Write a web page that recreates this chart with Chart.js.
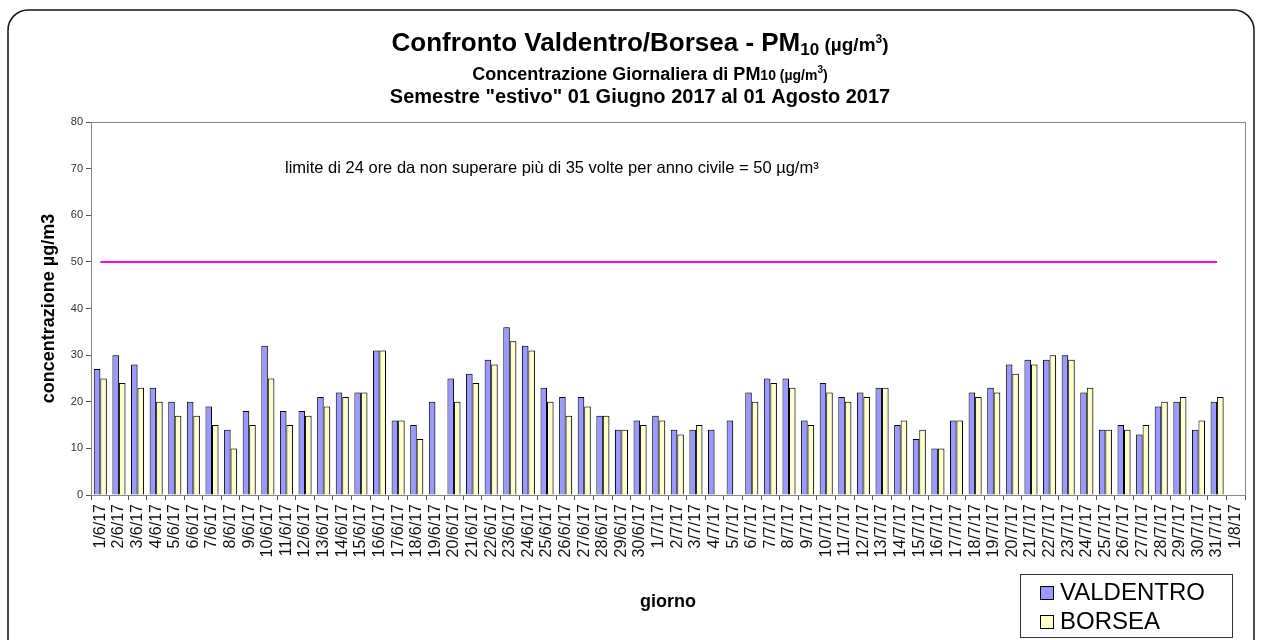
<!DOCTYPE html>
<html><head><meta charset="utf-8">
<script src="https://cdn.jsdelivr.net/npm/chart.js@4.4.0/dist/chart.umd.min.js"></script>
<style>html,body{margin:0;padding:0;background:#fff;}#wrap{width:1262px;height:640px;position:relative;}</style>
</head><body><div id="wrap"><canvas id="c" width="1262" height="640"></canvas></div>
<script>
// ---- DATA ----
const days = ['1/6/17','2/6/17','3/6/17','4/6/17','5/6/17','6/6/17','7/6/17','8/6/17','9/6/17','10/6/17',
'11/6/17','12/6/17','13/6/17','14/6/17','15/6/17','16/6/17','17/6/17','18/6/17','19/6/17','20/6/17',
'21/6/17','22/6/17','23/6/17','24/6/17','25/6/17','26/6/17','27/6/17','28/6/17','29/6/17','30/6/17',
'1/7/17','2/7/17','3/7/17','4/7/17','5/7/17','6/7/17','7/7/17','8/7/17','9/7/17','10/7/17',
'11/7/17','12/7/17','13/7/17','14/7/17','15/7/17','16/7/17','17/7/17','18/7/17','19/7/17','20/7/17',
'21/7/17','22/7/17','23/7/17','24/7/17','25/7/17','26/7/17','27/7/17','28/7/17','29/7/17','30/7/17',
'31/7/17','1/8/17'];
const valdentro = [27,30,28,23,20,20,19,14,18,32,18,18,21,22,22,31,16,15,20,25,26,29,36,32,23,21,21,17,14,16,
17,14,14,14,16,22,25,25,16,24,21,22,23,15,12,10,16,22,23,28,29,29,30,22,14,15,13,19,20,14,20,null];
const borsea = [25,24,23,20,17,17,15,10,15,25,15,17,19,21,22,31,16,12,null,20,24,28,33,31,20,17,19,17,14,15,
16,13,15,null,null,20,24,23,15,22,20,21,23,16,14,10,16,21,22,26,28,30,29,23,14,14,15,20,21,16,21,null];
const limitDays = ['1/6/17','31/7/17'];
const limitValues = [50,50];
const seriesNames = ['VALDENTRO','BORSEA'];
const yMin = 0, yMax = 80, yStep = 10;

const FONT = 'Liberation Sans, Arial, Helvetica, sans-serif';

function richText(ctx, segs, cx, baseline){
  let total = 0;
  segs.forEach(s=>{ctx.font=s.font; s.w=ctx.measureText(s.t).width; total+=s.w;});
  let x = cx - total/2;
  ctx.textAlign='left'; ctx.textBaseline='alphabetic'; ctx.fillStyle='#000';
  segs.forEach(s=>{ctx.font=s.font; ctx.fillText(s.t,x,baseline+(s.dy||0)); x+=s.w;});
}

const decor = {
  id:'decor',
  beforeDraw(chart){
    const ctx=chart.ctx, a=chart.chartArea;
    ctx.save();
    ctx.fillStyle='#fff'; ctx.fillRect(0,0,chart.width,chart.height);
    ctx.strokeStyle='#111'; ctx.lineWidth=1.5;
    ctx.beginPath(); ctx.roundRect(8,10,1246,660,20); ctx.stroke();
    ctx.strokeStyle='#888'; ctx.lineWidth=1;
    ctx.strokeRect(Math.round(a.left)+0.5,Math.round(a.top)+0.5,Math.round(a.right-a.left),Math.round(a.bottom-a.top));
    ctx.restore();
  },
  beforeDatasetDraw(chart,args){
    if(chart.data.datasets[args.index].type==='line') return;
    const ctx=chart.ctx; ctx.save();
    ctx.shadowColor='rgba(0,0,0,0.25)'; ctx.shadowOffsetX=1.5; ctx.shadowOffsetY=0; ctx.shadowBlur=0;
  },
  afterDatasetDraw(chart,args){
    if(chart.data.datasets[args.index].type==='line') return;
    chart.ctx.restore();
  },
  afterDraw(chart){
    const ctx=chart.ctx, a=chart.chartArea;
    const ys=chart.scales.y;
    ctx.save();
    const cx=640;
    richText(ctx,[
      {t:'Confronto Valdentro/Borsea - PM',font:'bold 26px '+FONT},
      {t:'10',font:'bold 17px '+FONT,dy:4},
      {t:' (µg/m',font:'bold 19px '+FONT},
      {t:'3',font:'bold 12px '+FONT,dy:-8},
      {t:')',font:'bold 19px '+FONT}
    ],cx,51);
    richText(ctx,[
      {t:'Concentrazione Giornaliera di PM',font:'bold 18px '+FONT},
      {t:'10 (µg/m',font:'bold 14px '+FONT},
      {t:'3',font:'bold 10px '+FONT,dy:-7},
      {t:')',font:'bold 14px '+FONT}
    ],650,80);
    richText(ctx,[
      {t:'Semestre "estivo" 01 Giugno 2017 al 01 Agosto 2017',font:'bold 20px '+FONT}
    ],cx,103);
    ctx.font='16.5px '+FONT; ctx.fillStyle='#000'; ctx.textAlign='left'; ctx.textBaseline='middle';
    ctx.fillText('limite di 24 ore da non superare più di 35 volte per anno civile = 50 µg/m³', a.left+194, ys.getPixelForValue(70));
    ctx.font='bold 18px '+FONT; ctx.textAlign='center'; ctx.textBaseline='middle';
    ctx.fillText('giorno',(a.left+a.right)/2,602);
    const lx=1020, ly=574, lw=212, lh=63;
    ctx.fillStyle='#fff'; ctx.fillRect(lx,ly,lw,lh);
    ctx.strokeStyle='#333'; ctx.lineWidth=1; ctx.strokeRect(lx+0.5,ly+0.5,lw,lh);
    chart.data.datasets.filter(d=>d.type!=='line').forEach((d,i)=>{
      const yy=ly+18+i*29;
      ctx.fillStyle=d.backgroundColor; ctx.fillRect(lx+20,yy-6,14,14);
      ctx.strokeStyle='#000'; ctx.strokeRect(lx+20.5,yy-5.5,13,13);
      ctx.fillStyle='#000'; ctx.font='24px '+FONT; ctx.textAlign='left'; ctx.textBaseline='middle';
      ctx.fillText(d.label,lx+40,yy+1);
    });
    ctx.restore();
  }
};

new Chart(document.getElementById('c'),{
  data:{
    labels:days,
    datasets:[
      {type:'bar',label:seriesNames[0],data:valdentro,backgroundColor:'#9999FF',borderColor:'#000',borderWidth:1,borderSkipped:'bottom',categoryPercentage:0.7,barPercentage:1.0,order:2},
      {type:'bar',label:seriesNames[1],data:borsea,backgroundColor:'#FFFFCC',borderColor:'#000',borderWidth:1,borderSkipped:'bottom',categoryPercentage:0.7,barPercentage:1.0,order:2},
      {type:'line',label:'limite',data:limitDays.map((d,i)=>({x:d,y:limitValues[i]})),borderColor:'#FF00FF',borderWidth:2,pointRadius:0,fill:false,order:1}
    ]
  },
  options:{
    responsive:false, animation:false, devicePixelRatio:1,
    layout:{padding:{top:122,left:0,right:17,bottom:0}},
    plugins:{legend:{display:false},tooltip:{enabled:false},title:{display:false}},
    scales:{
      x:{
        type:'category', offset:true,
        grid:{offset:true,drawOnChartArea:false,tickLength:5,color:'#888',tickColor:'#555'},
        border:{display:true,color:'#888'},
        ticks:{autoSkip:false,minRotation:90,maxRotation:90,padding:4,color:'#111',font:{family:FONT,size:16}},
        afterFit(s){s.height=145;}
      },
      y:{
        min:yMin,max:yMax,
        grid:{drawOnChartArea:false,tickLength:5,color:'#888',tickColor:'#555'},
        border:{display:true,color:'#888'},
        ticks:{stepSize:yStep,padding:3,color:'#333',font:{family:FONT,size:11}},
        title:{display:true,text:'concentrazione µg/m3',color:'#000',font:{family:FONT,size:18,weight:'bold'},padding:{top:38,bottom:0}},
        afterFit(s){s.width=91;}
      }
    }
  },
  plugins:[decor]
});
</script></body></html>
